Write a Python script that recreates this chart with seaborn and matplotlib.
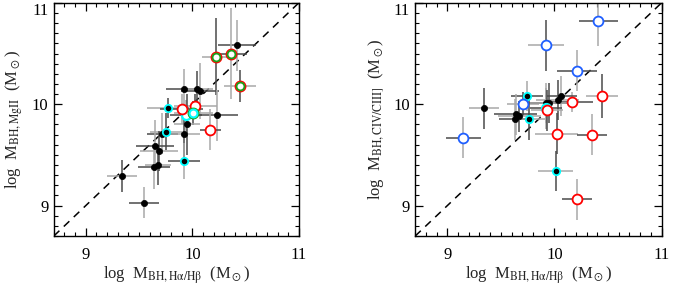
import numpy as np
import pandas as pd
import matplotlib
matplotlib.use("Agg")
import matplotlib.pyplot as plt
import seaborn as sns
from matplotlib.ticker import MultipleLocator

# Left panel: Halpha/Hbeta masses vs MgII masses
mg_x = [10.42, 10.22, 10.36, 10.45, 9.92, 10.04, 10.07, 9.77, 9.90, 10.03, 9.94, 10.01, 10.23,
        9.95, 10.17, 9.75, 9.72, 9.92, 9.65, 9.69, 9.92, 9.68, 9.64, 9.34, 9.55]
mg_y = [10.58, 10.47, 10.50, 10.18, 10.15, 10.15, 10.13, 9.96, 9.95, 9.98, 9.89, 9.91, 9.89,
        9.80, 9.75, 9.73, 9.71, 9.71, 9.59, 9.54, 9.44, 9.40, 9.38, 9.29, 9.03]
mg_xerr = [0.18, 0.13, 0.15, 0.15, 0.17, 0.15, 0.18, 0.20, 0.20, 0.20, 0.15, 0.18, 0.20,
           0.12, 0.10, 0.15, 0.15, 0.15, 0.18, 0.18, 0.15, 0.12, 0.15, 0.14, 0.14]
mg_yerr = [0.25, 0.38, 0.45, 0.16, 0.20, 0.18, 0.28, 0.10, 0.15, 0.12, 0.15, 0.12, 0.25,
           0.30, 0.20, 0.18, 0.20, 0.25, 0.25, 0.20, 0.18, 0.20, 0.22, 0.16, 0.15]
mg_kind = ['black', 'red_green', 'red_green', 'red_green', 'black', 'black', 'black',
           'cyan_dot', 'red', 'red', 'cyan_open', 'cyan_green', 'black', 'black', 'red',
           'cyan_dot', 'black', 'black', 'black', 'black', 'cyan_dot', 'black', 'black',
           'black', 'black']

# Right panel: Halpha/Hbeta masses vs CIV/CIII] masses
civ_x = [10.41, 9.92, 10.21, 10.44, 10.16, 9.34, 9.74, 9.71, 10.06, 10.03, 9.92, 9.95,
         9.92, 9.93, 9.64, 9.67, 9.63, 9.76, 9.15, 10.02, 10.35, 10.01, 10.21]
civ_y = [10.82, 10.58, 10.33, 10.08, 10.02, 9.96, 10.08, 10.00, 10.08, 10.04, 10.01, 10.01,
         9.96, 9.94, 9.90, 9.88, 9.85, 9.85, 9.67, 9.71, 9.70, 9.34, 9.06]
civ_xerr = [0.18, 0.17, 0.19, 0.15, 0.20, 0.14, 0.15, 0.15, 0.15, 0.20, 0.20, 0.20,
            0.15, 0.15, 0.20, 0.20, 0.15, 0.15, 0.16, 0.20, 0.14, 0.16, 0.14]
civ_yerr = [0.25, 0.25, 0.20, 0.22, 0.10, 0.20, 0.15, 0.12, 0.20, 0.20, 0.20, 0.20,
            0.20, 0.20, 0.20, 0.15, 0.20, 0.20, 0.20, 0.20, 0.20, 0.20, 0.20]
civ_kind = ['blue', 'blue', 'blue', 'red', 'red', 'black', 'cyan_dot', 'blue', 'black',
            'black', 'black', 'black', 'cyan_open', 'red', 'black', 'black', 'black',
            'cyan_dot', 'blue', 'red', 'red', 'cyan_dot', 'red']

ticks = [9, 10, 11]

sns.set_style("ticks")
plt.rcParams['font.family'] = ['Liberation Serif', 'DejaVu Serif']
plt.rcParams['mathtext.fontset'] = 'stix'

# marker layers per kind: (size, face, edge, linewidth)
styles = {
    'black': [(20, 'black', 'black', 0.5)],
    'cyan_dot': [(28, 'black', 'cyan', 1.3)],
    'cyan_open': [(42, 'white', 'cyan', 1.6)],
    'red': [(50, 'white', 'red', 1.3)],
    'blue': [(50, 'white', '#1f5fff', 1.3)],
    'red_green': [(55, 'white', 'red', 1.1), (32, 'white', '#1aa01a', 1.3)],
    'cyan_green': [(55, 'white', '#1aa01a', 1.1), (32, 'white', 'cyan', 1.5)],
}


def draw_panel(ax, x, y, xerr, yerr, kind, ylabel):
    df = pd.DataFrame({'x': x, 'y': y, 'xerr': xerr, 'yerr': yerr, 'kind': kind})
    ax.plot([8.7, 11], [8.7, 11], ls=(0, (5, 4)), color='black', lw=1.1, zorder=1)
    for i, row in df.iterrows():
        cx = '#4a4a4a' if i % 2 == 0 else '#a8a8a8'
        cy = '#a8a8a8' if i % 2 == 0 else '#4a4a4a'
        ax.errorbar(row.x, row.y, xerr=row.xerr, fmt='none', ecolor=cx, elinewidth=1.1,
                    capsize=0, zorder=2)
        ax.errorbar(row.x, row.y, yerr=row.yerr, fmt='none', ecolor=cy, elinewidth=1.1,
                    capsize=0, zorder=2)
    z = 3
    for k, layers in styles.items():
        sub = df[df['kind'] == k]
        if sub.empty:
            continue
        for s, fc, ec, lw in layers:
            sns.scatterplot(data=sub, x='x', y='y', ax=ax, s=s, color=fc, edgecolor=ec,
                            linewidth=lw, zorder=z, legend=False)
            z += 1
    ax.set_xlim(8.7, 11)
    ax.set_ylim(8.7, 11)
    ax.set_xticks(ticks)
    ax.set_yticks(ticks)
    ax.xaxis.set_minor_locator(MultipleLocator(0.1))
    ax.yaxis.set_minor_locator(MultipleLocator(0.1))
    ax.tick_params(which='both', direction='in', top=True, right=True, colors='black',
                   labelsize=12)
    ax.tick_params(which='major', length=6, width=0.9)
    ax.tick_params(which='minor', length=3, width=0.8)
    ax.tick_params(axis='x', pad=8)
    ax.tick_params(axis='y', pad=4)
    # top label sits just under the figure edge
    ax.get_yticklabels()[-1].set_va('top')
    for sp in ax.spines.values():
        sp.set_color('black')
        sp.set_linewidth(1.0)
    ax.set_xlabel(r'log  M$_{\rm BH,H\alpha/H\beta}$  (M$_\odot$)', fontsize=12, labelpad=1)
    ax.set_ylabel(ylabel, fontsize=12, labelpad=5)


fig = plt.figure(figsize=(6.73, 2.85), dpi=100)
ax1 = fig.add_axes([0.080, 0.172, 0.364, 0.818])
ax2 = fig.add_axes([0.617, 0.172, 0.366, 0.818])

draw_panel(ax1, mg_x, mg_y, mg_xerr, mg_yerr, mg_kind,
           r'log  M$_{\rm BH,MgII}$  (M$_\odot$)')
draw_panel(ax2, civ_x, civ_y, civ_xerr, civ_yerr, civ_kind,
           r'log  M$_{\rm BH,CIV/CIII]}$  (M$_\odot$)')

fig.savefig('out.png', dpi=100)
